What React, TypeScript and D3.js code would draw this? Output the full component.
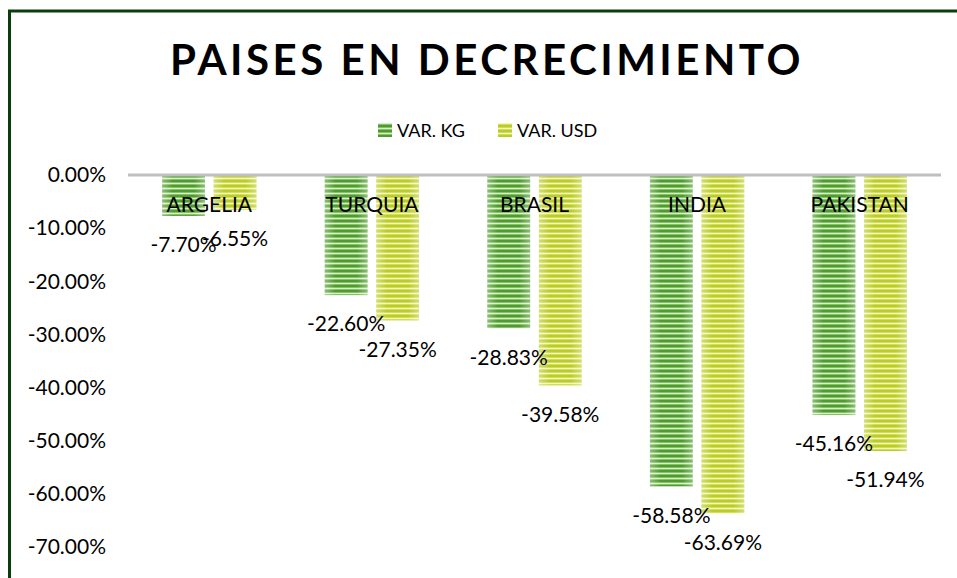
import React from "react";
import * as d3 from "d3";

const categories = ["ARGELIA", "TURQUIA", "BRASIL", "INDIA", "PAKISTAN"];
const varKg = [-7.7, -22.6, -28.83, -58.58, -45.16];
const varUsd = [-6.55, -27.35, -39.58, -63.69, -51.94];
const seriesNames = ["VAR. KG", "VAR. USD"];
const yTicks = [0, -10, -20, -30, -40, -50, -60, -70];

const W = 957;
const H = 578;
const FONT = "Lato, 'Open Sans', sans-serif";

export default function App() {
  const x = d3.scaleBand<string>().domain(categories).range([128, 941]).paddingInner(0.42).paddingOuter(0.21);
  const xs = d3.scaleBand<string>().domain(seriesNames).range([0, x.bandwidth()]).paddingInner(0.17);
  const y = d3.scaleLinear().domain([0, -70]).range([175, 547]);
  const series = [
    { name: seriesNames[0], values: varKg, fill: "url(#patKg)" },
    { name: seriesNames[1], values: varUsd, fill: "url(#patUsd)" },
  ];
  const fmt = (v: number) => (v < 0 ? "-" : "") + Math.abs(v).toFixed(2) + "%";
  return (
    <svg width={W} height={H} style={{ position: "absolute", left: 0, top: 0, background: "#fff" }} fontFamily={FONT}>
      <defs>
        <pattern id="patKg" patternUnits="userSpaceOnUse" width="8" height="5">
          <rect width="8" height="5" fill="#86c163" />
          <rect width="8" height="2" y="0" fill="#4f9a32" />
          <rect width="8" height="1" y="3" fill="#d9eecb" />
        </pattern>
        <pattern id="patUsd" patternUnits="userSpaceOnUse" width="8" height="5">
          <rect width="8" height="5" fill="#d2df55" />
          <rect width="8" height="2" y="0" fill="#bccb2c" />
          <rect width="8" height="1" y="3" fill="#f1f6c4" />
        </pattern>
        <linearGradient id="shade" x1="0" x2="1" y1="0" y2="0">
          <stop offset="0" stopColor="#fff" stopOpacity="0.35" />
          <stop offset="0.25" stopColor="#fff" stopOpacity="0" />
          <stop offset="0.75" stopColor="#fff" stopOpacity="0" />
          <stop offset="1" stopColor="#fff" stopOpacity="0.35" />
        </linearGradient>
      </defs>
      <rect x={9.5} y={11} width={1000} height={700} fill="none" stroke="#0b3d0b" strokeWidth={3} />
      <text x={487} y={75} textAnchor="middle" fontSize={42} fontWeight={700} letterSpacing={3.5} fill="#000">
        PAISES EN DECRECIMIENTO
      </text>
      {/* legend */}
      <g fontSize={18} fill="#000">
        <rect x={378} y={123} width={14} height={14} fill="url(#patKg)" />
        <text x={397} y={137}>{seriesNames[0]}</text>
        <rect x={498} y={123} width={14} height={14} fill="url(#patUsd)" />
        <text x={517} y={137}>{seriesNames[1]}</text>
      </g>
      {/* y axis labels */}
      <g fontSize={21} fill="#000" textAnchor="end">
        {yTicks.map((t) => (
          <text key={t} x={106} y={y(t)} dy="0.35em">{fmt(t)}</text>
        ))}
      </g>
      {/* bars */}
      {series.map((s) => (
        <g key={s.name}>
          {categories.map((c, i) => {
            const bx = (x(c) as number) + (xs(s.name) as number);
            const by = y(0);
            const bh = y(s.values[i]) - y(0);
            return (
              <g key={c}>
                <rect x={bx} y={by} width={xs.bandwidth()} height={bh} fill={s.fill} />
                <rect x={bx} y={by} width={xs.bandwidth()} height={bh} fill="url(#shade)" />
              </g>
            );
          })}
        </g>
      ))}
      <line x1={128} x2={941} y1={y(0)} y2={y(0)} stroke="#bfbfbf" strokeWidth={3} />
      {/* category labels */}
      <g fontSize={21} fill="#000" textAnchor="middle">
        {categories.map((c) => (
          <text key={c} x={(x(c) as number) + x.bandwidth() / 2} y={205} dy="0.35em">{c}</text>
        ))}
      </g>
      {/* value labels */}
      <g fontSize={21} fill="#000" textAnchor="middle">
        {series.map((s) =>
          categories.map((c, i) => (
            <text
              key={s.name + c}
              x={(x(c) as number) + (xs(s.name) as number) + xs.bandwidth() / 2}
              y={y(s.values[i]) + 29}
              dy="0.35em"
            >
              {fmt(s.values[i])}
            </text>
          ))
        )}
      </g>
    </svg>
  );
}
